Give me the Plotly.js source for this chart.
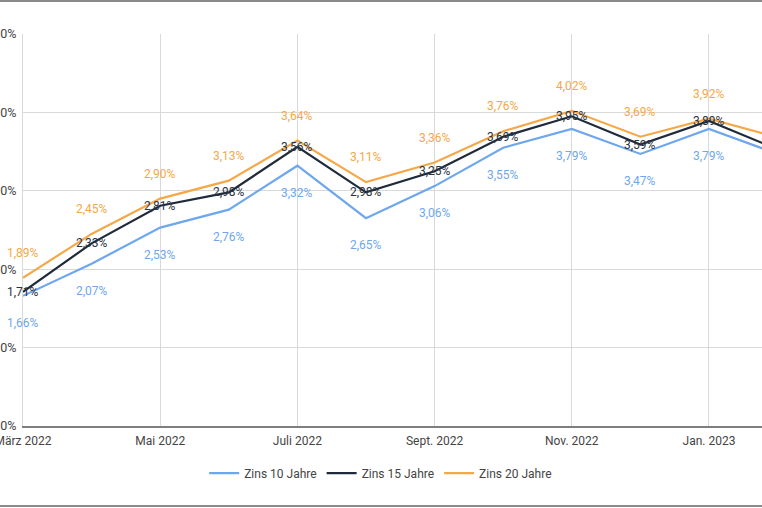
<!DOCTYPE html>
<html>
<head>
<meta charset="utf-8">
<script src="https://cdn.plot.ly/plotly-3.0.1.min.js"></script>
<style>
  html, body { margin: 0; padding: 0; background: #fff; overflow: hidden; }
  #wrap { position: relative; width: 762px; height: 508px; }
  #chart { position: absolute; left: 0; top: 0; width: 762px; height: 508px; }
  .bline { position: absolute; left: 0; width: 762px; height: 2px; background: #8a8a8a; }
</style>
</head>
<body>
<div id="wrap">
  <div id="chart"></div>
  <div class="bline" style="top:0px"></div>
  <div class="bline" style="top:505px"></div>
</div>
<script>
// Months (index 0 = März 2022)
const months = ["März 2022","Apr. 2022","Mai 2022","Juni 2022","Juli 2022","Aug. 2022","Sept. 2022","Okt. 2022","Nov. 2022","Dez. 2022","Jan. 2023","Feb. 2023"];
const tickIdx = [0, 2, 4, 6, 8, 10];
const tickLabels = ["März 2022","Mai 2022","Juli 2022","Sept. 2022","Nov. 2022","Jan. 2023"];

const zins10 = [1.66, 2.07, 2.53, 2.76, 3.32, 2.65, 3.06, 3.55, 3.79, 3.47, 3.79, 3.47];
const zins15 = [1.71, 2.33, 2.81, 2.98, 3.56, 2.98, 3.25, 3.69, 3.95, 3.59, 3.89, 3.53];
const zins20 = [1.89, 2.45, 2.90, 3.13, 3.64, 3.11, 3.36, 3.76, 4.02, 3.69, 3.92, 3.68];

const seriesNames = ["Zins 10 Jahre", "Zins 15 Jahre", "Zins 20 Jahre"];
const colors = ["#6ea7ee", "#1f2a3a", "#f5a847"];
const labelColors = ["#6ea7ee", "#2b3442", "#f5a847"];
const shifts = [-27, 0, 25];
const allSeries = [zins10, zins15, zins20];

const xIdx = months.map((m, i) => i);

const traces = allSeries.map((vals, s) => ({
  x: xIdx,
  y: vals,
  name: seriesNames[s],
  type: 'scatter',
  mode: 'lines',
  line: { color: colors[s], width: 2.2 },
  hovertemplate: '%{y:.2f}%<extra>' + seriesNames[s] + '</extra>'
}));

const fmt = v => v.toFixed(2).replace('.', ',') + '%';
const annotations = [];
allSeries.forEach((vals, s) => {
  vals.forEach((v, i) => {
    annotations.push({
      x: xIdx[i], y: v, xref: 'x', yref: 'y',
      text: fmt(v), showarrow: false,
      yshift: shifts[s],
      font: { family: 'Roboto, sans-serif', size: 12, color: labelColors[s] }
    });
  });
});

const layout = {
  width: 762, height: 508,
  margin: { l: 23, r: 0, t: 34, b: 82 },
  paper_bgcolor: 'rgba(0,0,0,0)',
  plot_bgcolor: '#fff',
  separators: ',.',
  font: { family: 'Roboto, sans-serif', size: 12, color: '#444' },
  showlegend: true,
  legend: {
    orientation: 'h', x: 0.484, xanchor: 'center', y: -0.12, yanchor: 'middle',
    font: { size: 12, color: '#444' }
  },
  xaxis: {
    range: [0, 10.773],
    tickvals: tickIdx, ticktext: tickLabels,
    showgrid: true, gridcolor: '#d9d9d9', gridwidth: 1,
    showline: true, linecolor: '#7f7f7f', linewidth: 1.5,
    zeroline: false, ticks: '', fixedrange: true,
    ticklabeloverflow: 'allow', ticklabelstandoff: 3,
    tickfont: { size: 12, color: '#444' }
  },
  yaxis: {
    range: [0, 5], dtick: 1, tick0: 0,
    tickformat: '.2f', ticksuffix: '%',
    showgrid: true, gridcolor: '#d9d9d9', gridwidth: 1,
    showline: true, linecolor: '#d9d9d9', linewidth: 1,
    zeroline: false, ticks: '', fixedrange: true,
    automargin: false,
    ticklabeloverflow: 'allow', ticklabelstandoff: 3,
    tickfont: { size: 12.5, color: '#444' }
  },
  annotations: annotations
};

Plotly.newPlot('chart', traces, layout, { displayModeBar: false, staticPlot: false });
</script>
</body>
</html>
